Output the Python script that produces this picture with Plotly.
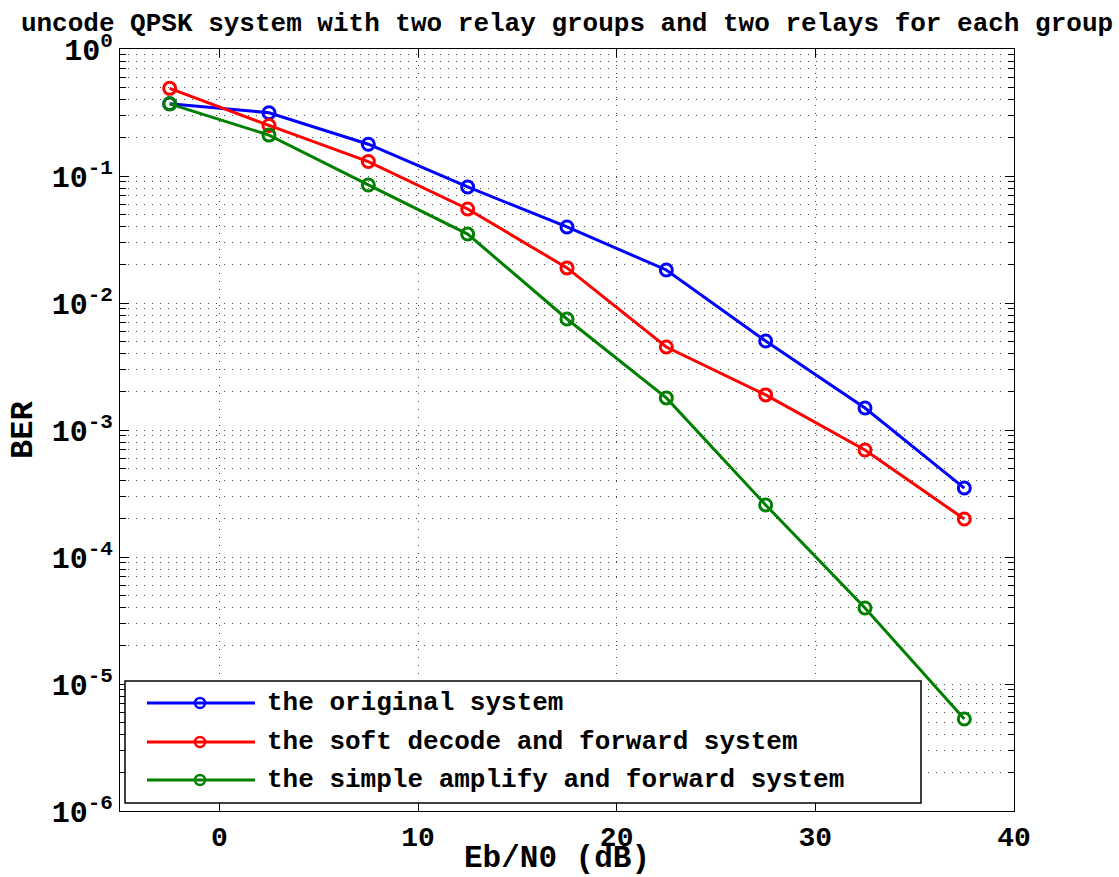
import plotly.graph_objects as go

# ---- data ----
ebn0 = [-2.5, 2.5, 7.5, 12.5, 17.5, 22.5, 27.5, 32.5, 37.5]
ber_original = [0.37, 0.315, 0.178, 0.082, 0.0397, 0.0182, 0.00502, 0.00149, 0.000349]
ber_soft_df = [0.49, 0.250, 0.130, 0.055, 0.0189, 0.00450, 0.00189, 0.000696, 0.000199]
ber_simple_af = [0.37, 0.210, 0.085, 0.0349, 0.00748, 0.00179, 0.000257, 0.0000397, 0.0000053]

series_names = ["the original system",
                "the soft decode and forward system",
                "the simple amplify and forward system"]
series_colors = ["#0000ff", "#ff0000", "#008000"]

x_tickvals = [0, 10, 20, 30, 40]
decades = [-6, -5, -4, -3, -2, -1, 0]

title_text = "uncode QPSK system with two relay groups and two relays for each group"
xlabel = "Eb/N0 (dB)"
ylabel = "BER"

MONO = "Liberation Mono, Courier New, monospace"

fig = go.Figure()
for name, yv, col in zip(series_names, [ber_original, ber_soft_df, ber_simple_af], series_colors):
    fig.add_trace(go.Scatter(
        x=ebn0, y=yv, name=name, mode="lines+markers",
        line=dict(color=col, width=3),
        marker=dict(symbol="circle-open", size=12, color=col, line=dict(color=col, width=3)),
        showlegend=False,
    ))

# y ticks: decades (major) and 2..9 (minor)
y_major = [10.0 ** e for e in decades]
y_major_text = [f"10<sup>{e}</sup>" for e in decades]
y_minor = [m * 10.0 ** e for e in decades[:-1] for m in range(2, 10)]

W, H = 1119, 877
L, R, T, B = 120, 1014, 49, 811
pw, ph = R - L, B - T

def px(xp):
    return (xp - L) / pw

def py(yp):
    return (B - yp) / ph

grid_dash = "1px,7px"
grid_col = "#444444"

fig.update_layout(
    width=W, height=H,
    margin=dict(l=L, r=W - R, t=T, b=H - B),
    paper_bgcolor="white", plot_bgcolor="white",
    title=dict(text=title_text, x=0.5, xref="paper", xanchor="center",
               y=1 - 22 / H, yref="container", yanchor="middle",
               font=dict(family=MONO, size=26, color="black", weight="bold")),
    xaxis=dict(range=[-5, 40], tickvals=x_tickvals, ticks="inside", ticklen=8,
               tickcolor="black", showline=True, linecolor="black", linewidth=1.2,
               mirror="allticks", showgrid=True, gridcolor=grid_col, griddash=grid_dash,
               gridwidth=1, zeroline=False,
               tickfont=dict(family=MONO, size=28, color="black", weight="bold")),
    yaxis=dict(type="log", range=[-6, 0], tickvals=y_major, ticktext=y_major_text,
               ticks="inside", ticklen=9, tickcolor="black", showline=True,
               linecolor="black", linewidth=1.2, mirror="allticks", showgrid=True,
               gridcolor=grid_col, griddash=grid_dash, gridwidth=1, zeroline=False,
               tickfont=dict(family=MONO, size=30, color="black", weight="bold"),
               minor=dict(tickvals=y_minor, ticks="inside", ticklen=6, tickcolor="black",
                          showgrid=True, gridcolor=grid_col, griddash=grid_dash,
                          gridwidth=1)),
)

# axis labels
fig.add_annotation(text=xlabel, xref="paper", yref="paper", x=px(557), y=py(858),
                   showarrow=False, xanchor="center", yanchor="middle",
                   font=dict(family=MONO, size=31, color="black", weight="bold"))
fig.add_annotation(text=ylabel, xref="paper", yref="paper", x=px(23), y=0.5,
                   showarrow=False, textangle=-90, xanchor="center", yanchor="middle",
                   font=dict(family=MONO, size=32, color="black", weight="bold"))

# custom legend box
fig.add_shape(type="rect", xref="paper", yref="paper",
              x0=px(125), x1=px(921), y0=py(803), y1=py(681),
              line=dict(color="black", width=1.5), fillcolor="white", layer="above")
rows = [703, 742, 780]
for name, col, ry in zip(series_names, series_colors, rows):
    fig.add_shape(type="line", xref="paper", yref="paper",
                  x0=px(147), x1=px(255), y0=py(ry), y1=py(ry),
                  line=dict(color=col, width=3), layer="above")
    fig.add_shape(type="circle", xref="paper", yref="paper",
                  xsizemode="pixel", ysizemode="pixel",
                  xanchor=px(200), yanchor=py(ry), x0=-5, x1=5, y0=-5, y1=5,
                  line=dict(color=col, width=2.5), fillcolor="rgba(0,0,0,0)", layer="above")
    fig.add_annotation(text=name, xref="paper", yref="paper", x=px(265), y=py(ry),
                       showarrow=False, xanchor="left", yanchor="middle",
                       font=dict(family=MONO, size=26, color="black", weight="bold"))

fig.write_html("out.html")
